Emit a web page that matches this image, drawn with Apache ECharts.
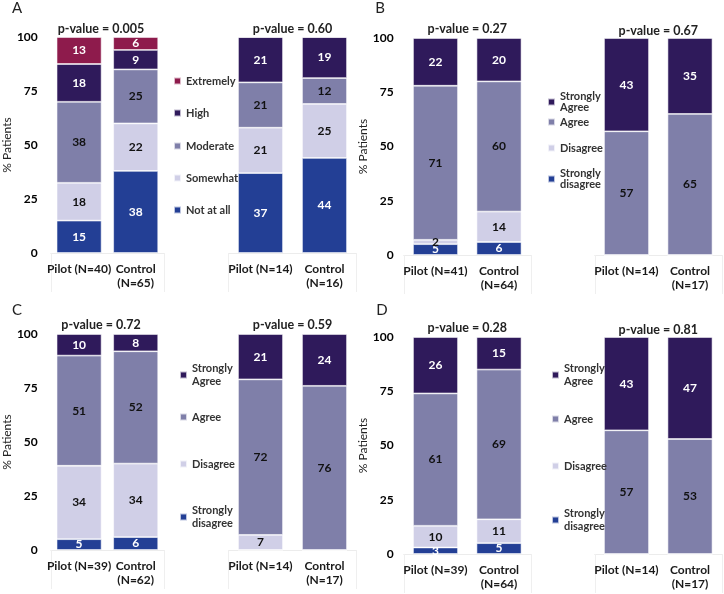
<!DOCTYPE html>
<html><head><meta charset="utf-8">
<script src="https://cdn.jsdelivr.net/npm/echarts@6/dist/echarts.min.js"></script>
<style>html,body{margin:0;padding:0;background:#fff}#c{width:724px;height:594px}</style>
</head><body><div id="c"></div>
<script>
// ---------- DATA ----------
const yTicks = [0, 25, 50, 75, 100];

// Panel A (bars: left Pilot, left Control, right Pilot, right Control)
const A_cats = ['Pilot (N=40)', 'Control\n(N=65)', 'Pilot (N=14)', 'Control\n(N=16)'];
const A_pvalues = ['p-value = 0.005', 'p-value = 0.60'];
const A_notAtAll = [15, 38, 37, 44];
const A_somewhat = [17.5, 22, 21, 25];
const A_moderate = [37.5, 25, 21, 12];
const A_high = [17.5, 9, 21, 19];
const A_extremely = [12.5, 6, 0, 0];

// Panel B
const B_cats = ['Pilot (N=41)', 'Control\n(N=64)', 'Pilot (N=14)', 'Control\n(N=17)'];
const B_pvalues = ['p-value = 0.27', 'p-value = 0.67'];
const B_stronglyDisagree = [5, 6, 0, 0];
const B_disagree = [2, 14, 0, 0];
const B_agree = [71, 60, 57, 65];
const B_stronglyAgree = [22, 20, 43, 35];

// Panel C
const C_cats = ['Pilot (N=39)', 'Control\n(N=62)', 'Pilot (N=14)', 'Control\n(N=17)'];
const C_pvalues = ['p-value = 0.72', 'p-value = 0.59'];
const C_stronglyDisagree = [5, 6, 0, 0];
const C_disagree = [34, 34, 7, 0];
const C_agree = [51, 52, 72, 76];
const C_stronglyAgree = [10, 8, 21, 24];

// Panel D
const D_cats = ['Pilot (N=39)', 'Control\n(N=64)', 'Pilot (N=14)', 'Control\n(N=17)'];
const D_pvalues = ['p-value = 0.28', 'p-value = 0.81'];
const D_stronglyDisagree = [3, 5, 0, 0];
const D_disagree = [10, 11, 0, 0];
const D_agree = [61, 69, 57, 53];
const D_stronglyAgree = [26, 15, 43, 47];

// ---------- STYLE ----------
const COL = {
  dark: '#2F1A5B', mid: '#7F7FA9', light: '#D0CFE7', blue: '#233F95', red: '#8E1B4C'
};
const FONT = 'Lato, "Open Sans", sans-serif';

const likert4 = (sd, d, a, sa) => [
  { name: 'Strongly disagree', data: sd, color: COL.blue, lc: '#fff' },
  { name: 'Disagree', data: d, color: COL.light, lc: '#111' },
  { name: 'Agree', data: a, color: COL.mid, lc: '#111' },
  { name: 'Strongly Agree', data: sa, color: COL.dark, lc: '#fff' }
];
const order4 = ['Strongly Agree', 'Agree', 'Disagree', 'Strongly disagree'];

const panels = [
  { letter: 'A', letterPos: [17, 8], cats: A_cats, pv: A_pvalues,
    series: [
      { name: 'Not at all', data: A_notAtAll, color: COL.blue, lc: '#fff' },
      { name: 'Somewhat', data: A_somewhat, color: COL.light, lc: '#111' },
      { name: 'Moderate', data: A_moderate, color: COL.mid, lc: '#111' },
      { name: 'High', data: A_high, color: COL.dark, lc: '#fff' },
      { name: 'Extremely', data: A_extremely, color: COL.red, lc: '#fff' }
    ],
    legendOrder: ['Extremely', 'High', 'Moderate', 'Somewhat', 'Not at all'],
    grids: [[38, 126], [228.5, 128]], top: 37, height: 216, yMargin: 13, nameGap: 27,
    pvY: [24, 24],
    legX: 168, legY: [81, 113, 146, 178, 210], lh: 13 },
  { letter: 'B', letterPos: [380, 8], cats: B_cats, pv: B_pvalues,
    series: likert4(B_stronglyDisagree, B_disagree, B_agree, B_stronglyAgree),
    legendOrder: order4,
    grids: [[403.75, 127], [594.75, 127]], top: 38, height: 217, yMargin: 10, nameGap: 22,
    pvY: [24, 26],
    legX: 542, legY: [97, 122, 148, 174], lh: 11.5 },
  { letter: 'C', letterPos: [17, 310], cats: C_cats, pv: C_pvalues,
    series: likert4(C_stronglyDisagree, C_disagree, C_agree, C_stronglyAgree),
    legendOrder: order4,
    grids: [[38, 126], [228.5, 128]], top: 334, height: 216, yMargin: 13, nameGap: 27,
    pvY: [320, 320],
    legX: 174, legY: [370, 417, 464, 512], lh: 13.3 },
  { letter: 'D', letterPos: [382, 310], cats: D_cats, pv: D_pvalues,
    series: likert4(D_stronglyDisagree, D_disagree, D_agree, D_stronglyAgree),
    legendOrder: order4,
    grids: [[403.75, 127], [594.75, 127]], top: 337, height: 217, yMargin: 10, nameGap: 22,
    pvY: [323, 325],
    legX: 546, legY: [370, 419, 466, 515], lh: 13 }
];

const option = {
  animation: false,
  backgroundColor: '#fff',
  textStyle: { fontFamily: FONT },
  title: [], grid: [], xAxis: [], yAxis: [], series: [], legend: []
};

panels.forEach((p) => {
  option.title.push({
    text: p.letter, left: p.letterPos[0], top: p.letterPos[1] - 9, textAlign: 'center', padding: 0,
    textStyle: { fontFamily: FONT, fontSize: 15, fontWeight: 'normal', color: '#222', lineHeight: 18 }
  });
  p.grids.forEach((g, gi) => {
    const gIdx = option.grid.length;
    option.grid.push({ left: g[0], width: g[1], top: p.top, height: p.height });
    option.title.push({
      text: p.pv[gi], left: g[0] + g[1] / 2, top: p.pvY[gi] - 2, textAlign: 'center', padding: 0,
      textStyle: { fontFamily: FONT, fontSize: 12.5, fontWeight: 'bold', color: '#222', lineHeight: 14 }
    });
    option.xAxis.push({
      type: 'category', gridIndex: gIdx, data: p.cats.slice(gi * 2, gi * 2 + 2),
      axisLine: { lineStyle: { color: '#ececec', width: 1 } },
      axisTick: { show: true, length: 39, interval: (i) => i === 0, lineStyle: { color: '#efefef' } },
      axisLabel: { interval: 0, margin: 9, fontFamily: FONT, fontSize: 12, fontWeight: 'bold', color: '#1a1a1a', lineHeight: 14 }
    });
    option.yAxis.push({
      type: 'value', gridIndex: gIdx, min: yTicks[0], max: yTicks[yTicks.length - 1], interval: yTicks[1] - yTicks[0],
      show: gi === 0,
      name: gi === 0 ? '% Patients' : '', nameLocation: 'middle', nameGap: p.nameGap,
      nameTextStyle: { fontFamily: FONT, fontSize: 12, color: '#222' },
      axisLine: { show: false }, axisTick: { show: false }, splitLine: { show: false },
      axisLabel: { margin: p.yMargin, fontFamily: FONT, fontSize: 12, fontWeight: 'bold', color: '#000' }
    });
    p.series.forEach((s) => {
      option.series.push({
        type: 'bar', name: s.name, xAxisIndex: gIdx, yAxisIndex: gIdx,
        stack: 'st' + gIdx, barWidth: 45,
        data: s.data.slice(gi * 2, gi * 2 + 2),
        itemStyle: { color: s.color, borderColor: 'rgba(255,255,255,0.7)', borderWidth: 0.8 },
        label: {
          show: true, position: 'inside', color: s.lc, fontFamily: FONT, fontSize: 12, fontWeight: 'bold',
          formatter: (d) => d.value > 0 ? String(Math.round(d.value)) : ''
        }
      });
    });
  });
  p.legendOrder.forEach((nm, k) => {
    const two = nm.indexOf('Strongly') === 0;
    const cy = p.legY[k];
    option.legend.push({
      data: [nm], selectedMode: false, orient: 'vertical',
      left: p.legX, top: two ? cy - 1.5 * p.lh : cy - 0.5 * p.lh - 5,
      itemWidth: 7, itemHeight: 7, icon: 'rect',
      formatter: (n) => n.replace('Strongly ', 'Strongly\n'),
      textStyle: { fontFamily: FONT, fontSize: 11, fontWeight: 'bold', color: '#333', lineHeight: p.lh,
        padding: two ? [p.lh, 0, 0, 0] : 0 }
    });
  });
});

const chart = echarts.init(document.getElementById('c'), null, { renderer: 'canvas' });
chart.setOption(option);
</script></body></html>
